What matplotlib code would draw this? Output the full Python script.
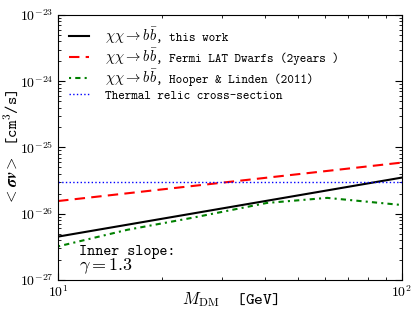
import matplotlib
matplotlib.use("Agg")
import matplotlib.pyplot as plt
from matplotlib.ticker import NullFormatter

plt.rcParams["mathtext.fontset"] = "cm"
plt.rcParams["font.family"] = ["cmtt10", "DejaVu Sans Mono"]
plt.rcParams["axes.unicode_minus"] = False

mass_this = [10, 100]
sv_this = [4.5e-27, 3.5e-26]

mass_fermi = [10, 100]
sv_fermi = [1.55e-26, 5.9e-26]

mass_hooper = [10, 15.9, 24.7, 40.5, 60.7, 100]
sv_hooper = [3.2e-27, 5.7e-27, 8.7e-27, 1.45e-26, 1.73e-26, 1.35e-26]

mass_relic = [10, 100]
sv_relic = [3e-26, 3e-26]

channel = r"$\chi\chi\rightarrow b\bar{b}$"
suffixes = [", this work", ", Fermi LAT Dwarfs (2years )", ", Hooper & Linden (2011)"]

fig, ax = plt.subplots(figsize=(4.15, 3.12), dpi=100)
fig.subplots_adjust(left=0.14, right=0.968, top=0.952, bottom=0.103)

ax.plot(mass_this, sv_this, color="black", lw=1.5, label=channel)
ax.plot(mass_fermi, sv_fermi, color="red", lw=1.5, ls=(0, (5, 3)), label=channel)
ax.plot(mass_hooper, sv_hooper, color="green", lw=1.5, ls=(0, (1, 2, 2.5, 2)),
        label=channel)
ax.plot(mass_relic, sv_relic, color="blue", lw=1.0, ls=":",
        label="Thermal relic cross-section")

ax.set_xscale("log")
ax.set_yscale("log")
ax.set_xlim(10, 100)
ax.set_ylim(1e-27, 1e-23)
ax.tick_params(which="both", direction="in", top=True, right=True)
ax.tick_params(which="major", length=5, labelsize=10)
ax.tick_params(which="minor", length=2.5)
ax.set_xticks([10, 100])
ax.set_xticklabels([r"$\boldsymbol{10^{1}}$", r"$\boldsymbol{10^{2}}$"])
ax.xaxis.set_minor_formatter(NullFormatter())
ax.set_yticks([1e-27, 1e-26, 1e-25, 1e-24, 1e-23])
ax.set_yticklabels([r"$\boldsymbol{10^{-27}}$", r"$\boldsymbol{10^{-26}}$",
                    r"$\boldsymbol{10^{-25}}$", r"$\boldsymbol{10^{-24}}$",
                    r"$\boldsymbol{10^{-23}}$"])
ax.yaxis.set_minor_formatter(NullFormatter())

ax.set_xlabel(r"$M_{\rm DM}$  [GeV]", fontsize=12)
ax.set_ylabel(r"$<\boldsymbol{\sigma v}>$ [cm$^3$/s]", fontsize=11.5)
ax.xaxis.set_label_coords(0.5, -0.04)
ax.yaxis.set_label_coords(-0.11, 0.5)

ax.text(0.06, 0.095, "Inner slope:", transform=ax.transAxes, fontsize=11)
ax.text(0.06, 0.035, r"$\gamma = \mathbf{1.3}$", transform=ax.transAxes, fontsize=13)

leg = ax.legend(loc="upper left", frameon=False, fontsize=10.5, handlelength=1.4,
                borderaxespad=0.25, labelspacing=0.05, handletextpad=1.1,
                borderpad=0.5)
texts = leg.get_texts()
texts[3].set_fontsize(9)

fig.canvas.draw()
renderer = fig.canvas.get_renderer()
for t, suffix in zip(texts[:3], suffixes):
    bb = t.get_window_extent(renderer)
    x0, y0 = t.get_transform().transform(t.get_position())
    fig.text((bb.x1 - 3) / fig.bbox.width, y0 / fig.bbox.height, suffix,
             fontsize=9, va="baseline", ha="left")

plt.savefig("out.png")
